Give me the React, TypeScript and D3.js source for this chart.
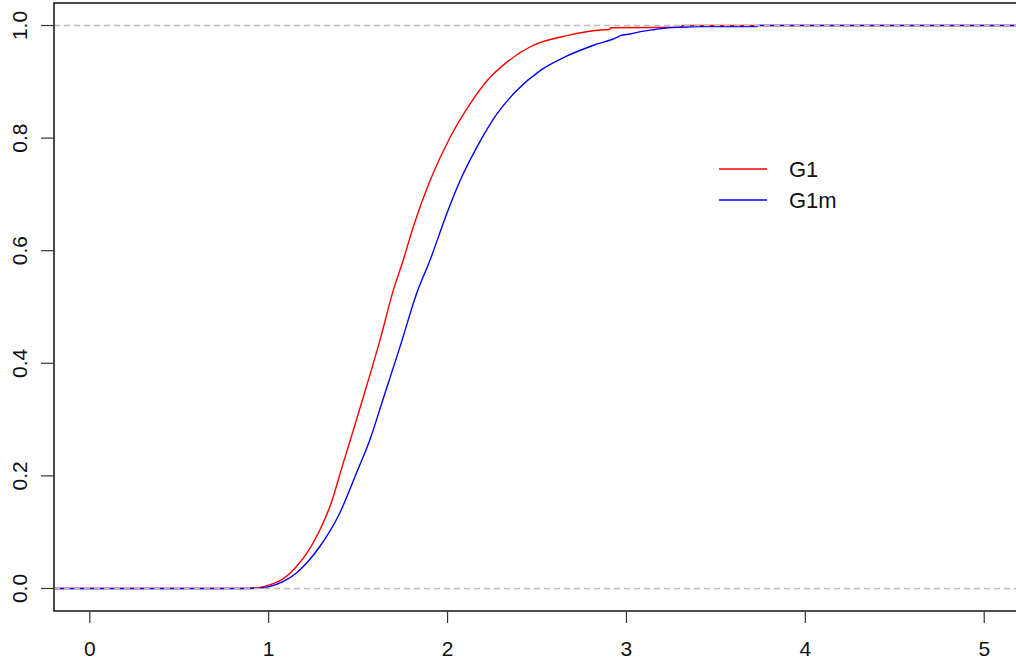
import React from 'react';
import * as d3 from 'd3';

// ECDF points: x value and cumulative proportion
const g1X = [0.856, 0.95, 1.0, 1.08, 1.158, 1.22, 1.28, 1.343, 1.418, 1.474, 1.53, 1.623, 1.697, 1.753, 1.809, 1.903, 2.015, 2.126, 2.238, 2.332, 2.481, 2.668, 2.854, 2.905, 2.912, 3.305, 3.312];
const g1F = [0, 0.002, 0.006, 0.017, 0.04, 0.066, 0.1, 0.146, 0.224, 0.282, 0.341, 0.442, 0.53, 0.584, 0.643, 0.725, 0.802, 0.861, 0.908, 0.935, 0.965, 0.982, 0.992, 0.993, 0.996, 0.997, 1];

const g1mX = [0.895, 0.96, 1.0, 1.08, 1.157, 1.22, 1.287, 1.399, 1.492, 1.567, 1.641, 1.735, 1.828, 1.903, 1.996, 2.071, 2.164, 2.276, 2.388, 2.518, 2.668, 2.816, 2.947, 2.966, 3.02, 3.095, 3.16, 3.229, 3.31, 3.413, 3.727, 3.734];
const g1mF = [0, 0.001, 0.003, 0.012, 0.028, 0.048, 0.075, 0.135, 0.206, 0.265, 0.338, 0.43, 0.525, 0.584, 0.666, 0.725, 0.784, 0.843, 0.885, 0.92, 0.946, 0.965, 0.979, 0.982, 0.985, 0.99, 0.993, 0.996, 0.997, 0.998, 0.998, 1];

const xTicks = [0, 1, 2, 3, 4, 5];
const yTicks = [0, 0.2, 0.4, 0.6, 0.8, 1];
const seriesNames = ['G1', 'G1m'];
const seriesColors = ['#ff0000', '#0000ff'];

const W = 1016;
const H = 665;
const left = 54, top = 3, bottom = 611, right = 1020;
const font = '"Liberation Sans", Arial, sans-serif';

export default function App() {
  const x = d3.scaleLinear().domain([-0.2, 5.2]).range([left, right]);
  const y = d3.scaleLinear().domain([-0.04, 1.04]).range([bottom, top]);
  const [x0, x1] = x.domain();

  const line = d3.line<[number, number]>()
    .x(d => x(d[0]))
    .y(d => y(d[1]))
    .curve(d3.curveMonotoneX);

  // extend each ecdf flat to both ends of the plot region
  const toPts = (xs: number[], fs: number[]): [number, number][] => [
    [x0, 0],
    ...xs.map((v, i) => [v, fs[i]] as [number, number]),
    [x1, 1],
  ];
  const series = [toPts(g1X, g1F), toPts(g1mX, g1mF)];

  return (
    <div>
      <style>{`body{margin:0}`}</style>
      <svg width={W} height={H} style={{ display: 'block', background: '#fff' }}>
        <defs>
          <clipPath id="plotclip">
            <rect x={left} y={top} width={right - left} height={bottom - top} />
          </clipPath>
        </defs>

        <g clipPath="url(#plotclip)">
          {series.map((pts, i) => (
            <path key={i} d={line(pts) || ''} fill="none" stroke={seriesColors[i]} strokeWidth={1.4} />
          ))}
          {[0, 1].map(v => (
            <line key={v} x1={left} x2={right} y1={y(v)} y2={y(v)}
              stroke="#bdbdbd" strokeWidth={1.3} strokeDasharray="6,4" />
          ))}
        </g>

        {/* box */}
        <rect x={left} y={top} width={right - left} height={bottom - top} fill="none" stroke="#111" strokeWidth={1.5} />

        {/* x axis */}
        {xTicks.map(t => (
          <g key={t}>
            <line x1={x(t)} x2={x(t)} y1={bottom} y2={bottom + 12} stroke="#333" strokeWidth={1.2} />
            <text x={x(t)} y={656} textAnchor="middle" fontFamily={font} fontSize={21} fill="#111">{t}</text>
          </g>
        ))}

        {/* y axis */}
        {yTicks.map(t => (
          <g key={t}>
            <line x1={left - 13} x2={left} y1={y(t)} y2={y(t)} stroke="#333" strokeWidth={1.2} />
            <text transform={`translate(27,${y(t)}) rotate(-90)`} textAnchor="middle" fontFamily={font} fontSize={21} fill="#111">
              {t.toFixed(1)}
            </text>
          </g>
        ))}

        {/* legend */}
        {seriesNames.map((name, i) => (
          <g key={name} transform={`translate(719,${169 + i * 31})`}>
            <line x1={0} x2={48} y1={0} y2={0} stroke={seriesColors[i]} strokeWidth={1.4} />
            <text x={70} y={8} fontFamily={font} fontSize={22} fill="#111">{name}</text>
          </g>
        ))}
      </svg>
    </div>
  );
}
